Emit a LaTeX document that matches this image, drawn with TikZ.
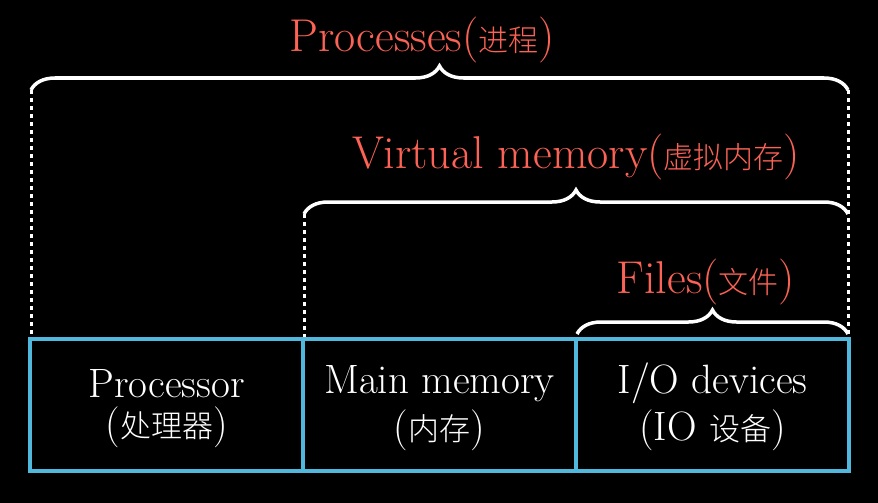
\documentclass[tikz,border=0pt]{standalone}
\usepackage{fontspec}
\newfontfamily\cjk{Noto Sans CJK SC}[UprightFont=* Light]
\usetikzlibrary{decorations.pathreplacing}
\definecolor{mred}{HTML}{FC6255}
\definecolor{mblue}{HTML}{50B8DC}
\newcommand{\zhh}[1]{{\cjk\fontsize{30}{32}\selectfont #1}}
\newcommand{\zhb}[1]{{\cjk\fontsize{31}{33}\selectfont #1}}
\newcommand{\topstrut}{\rule{0pt}{35pt}}
\begin{document}
\begin{tikzpicture}[x=1pt,y=-1pt,
  box/.style={draw=mblue,line width=3.5pt,minimum width=273pt,minimum height=132pt,inner sep=0pt,
    text=white,align=center,font=\fontsize{41}{44}\selectfont},
  head/.style={text=mred,font=\fontsize{46}{50}\selectfont,inner sep=0pt},
  brc/.style={draw=white,line width=3.5pt,decorate,decoration={brace,amplitude=24pt}},
  dots/.style={draw=white,line width=3pt,dash pattern=on 3.5pt off 4.5pt}]
\fill[black] (0,0) rectangle (878,503);
\useasboundingbox (0,0) rectangle (878,503);
% boxes with their labels
\node[box] (proc) at (166.5,405) {\topstrut Processor\\[-4pt](\zhb{处理器})};
\node[box] (mem) at (439.5,405) {\topstrut Main memory\\[3pt](\zhb{内存})};
\node[box] (io) at (712.5,405) {\topstrut I/O devices\\[3pt](IO \zhb{设备})};
% dotted guides
\coordinate (pL) at (31,90);
\coordinate (pR) at (848,90);
\coordinate (vL) at (304,214);
\draw[dots] (pL) -- (pL |- proc.north);
\draw[dots] (pR) -- (pR |- io.north);
\draw[dots] (vL) -- (vL |- mem.north);
% braces
\coordinate (vR) at (848,214);
\coordinate (fL) at (577,334);
\coordinate (fR) at (848,334);
\draw[brc] (pL) -- (pR);
\draw[brc] (vL) -- (vR);
\draw[brc] (fL) -- (fR);
% headings
\node[head] (hp) at (422,40) {Processes(\zhh{进程})};
\node[head] (hv) at (576,157) {Virtual memory(\zhh{虚拟内存})};
\node[head] (hf) at (706,282) {Files(\zhh{文件})};
\end{tikzpicture}
\end{document}
